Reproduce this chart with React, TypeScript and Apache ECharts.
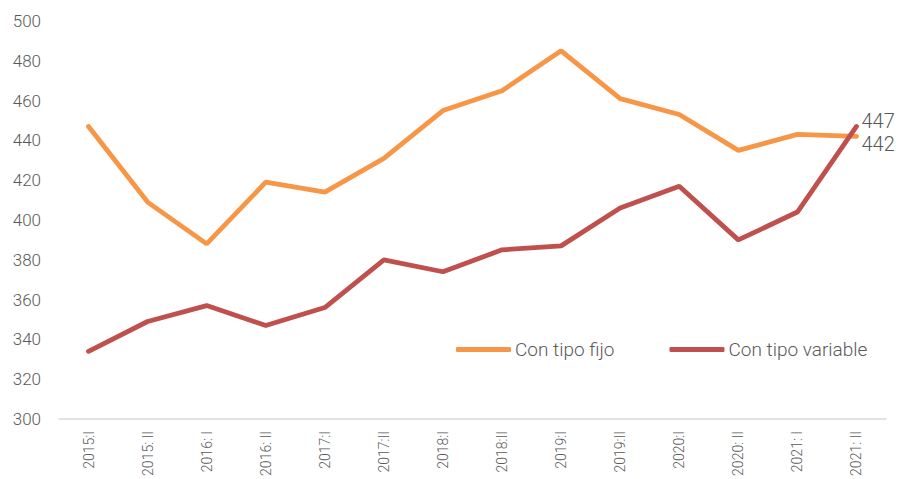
import React, { useEffect, useRef } from "react";
import * as echarts from "echarts";

const categories = [
  "2015:I", "2015: II", "2016: I", "2016: II", "2017:I", "2017:II", "2018:I",
  "2018:II", "2019:I", "2019:II", "2020:I", "2020: II", "2021: I", "2021: II",
];
const fijo = [447, 409, 388, 419, 414, 431, 455, 465, 485, 461, 453, 435, 443, 442];
const variable = [334, 349, 357, 347, 356, 380, 374, 385, 387, 406, 417, 390, 404, 447];

const FONT = "Roboto";
const TEXT = "#595959";

export default function App() {
  const ref = useRef<HTMLDivElement>(null);
  useEffect(() => {
    if (!ref.current) return;
    const chart = echarts.init(ref.current, null, { renderer: "svg" });
    const endLabel = (offsetY: number) => ({
      show: true,
      formatter: "{c}",
      offset: [0, offsetY],
      distance: 5,
      color: TEXT,
      fontSize: 20,
      fontFamily: FONT,
      fontWeight: 300,
    });
    chart.setOption({
      animation: false,
      grid: { left: 59, right: 15, top: 21, bottom: 60 },
      legend: {
        left: 451,
        top: 335,
        itemGap: 55,
        itemWidth: 55,
        itemHeight: 5,
        icon: "roundRect",
        textStyle: { color: TEXT, fontSize: 19, fontFamily: FONT, fontWeight: 300, padding: [0, 0, 0, -1] },
        data: [
          { name: "Con tipo fijo", itemStyle: { color: "#F79646" } },
          { name: "Con tipo variable", itemStyle: { color: "#C0504D" } },
        ],
      },
      xAxis: {
        type: "category",
        data: categories,
        boundaryGap: true,
        axisLine: { show: true, lineStyle: { color: "#d9d9d9", width: 1.5 } },
        axisTick: { show: false },
        axisLabel: {
          rotate: 90,
          color: TEXT,
          fontSize: 14,
          fontFamily: FONT,
          fontWeight: 300,
          margin: 12,
          interval: 0,
        },
      },
      yAxis: {
        type: "value",
        min: 300,
        max: 500,
        interval: 20,
        splitLine: { show: false },
        axisLine: { show: false },
        axisTick: { show: false },
        axisLabel: { color: TEXT, fontSize: 17, fontFamily: FONT, fontWeight: 300, margin: 18 },
      },
      series: [
        {
          name: "Con tipo fijo",
          type: "line",
          data: fijo,
          symbol: "none",
          lineStyle: { color: "#F79646", width: 4.8, cap: "round" },
          itemStyle: { color: "#F79646" },
          endLabel: endLabel(8),
          z: 2,
        },
        {
          name: "Con tipo variable",
          type: "line",
          data: variable,
          symbol: "none",
          lineStyle: { color: "#C0504D", width: 4.8, cap: "round" },
          itemStyle: { color: "#C0504D" },
          endLabel: endLabel(-5),
          z: 3,
        },
      ],
    });
    return () => chart.dispose();
  }, []);
  return <div ref={ref} style={{ width: 901, height: 479, position: "absolute", left: 0, top: 0 }} />;
}
